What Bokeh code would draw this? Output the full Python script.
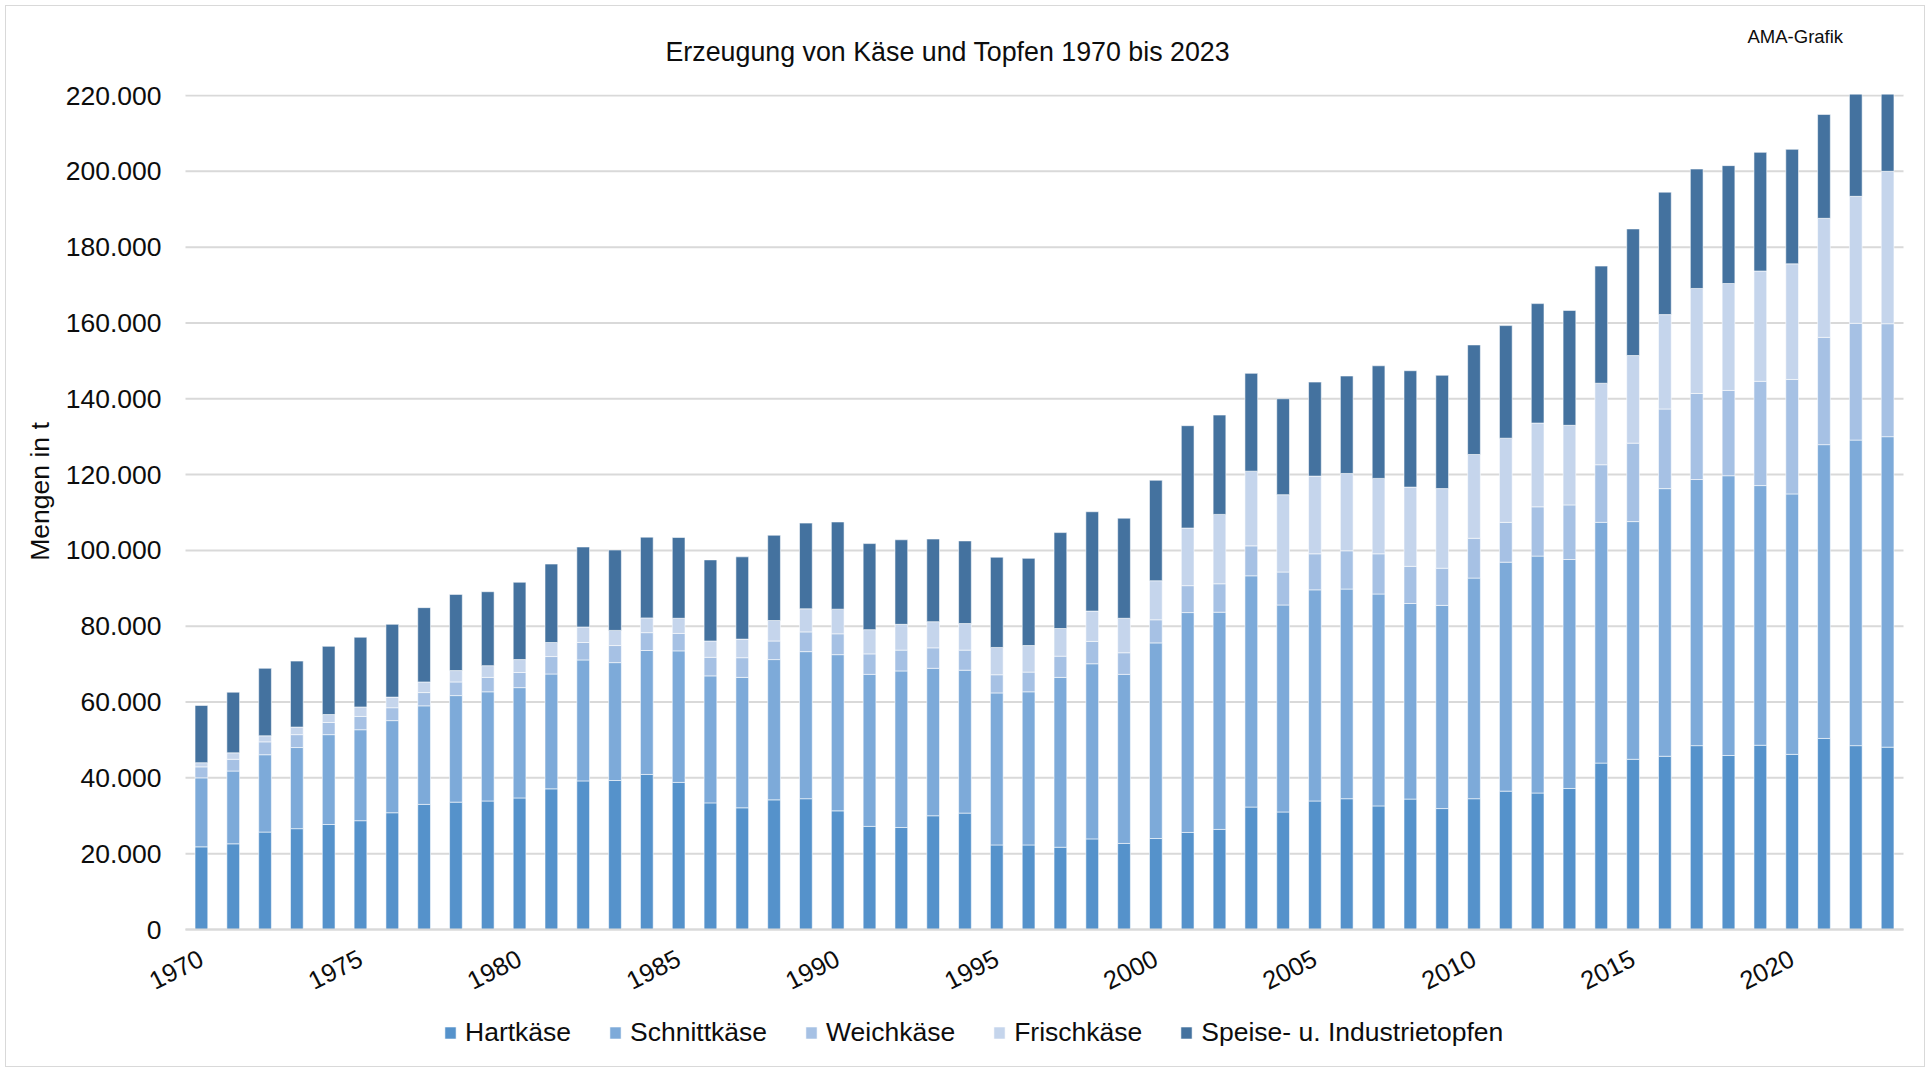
import math
from bokeh.plotting import figure
from bokeh.models import (ColumnDataSource, Range1d, FixedTicker, CustomJSTickFormatter,
                          Label, BoxAnnotation)
from bokeh.embed import file_html
from bokeh.resources import INLINE

years = list(range(1970, 2024))

hartkaese = [21800, 22600, 25700, 26600, 27700, 28700, 30800, 33000, 33600, 33900,
             34700, 37100, 39200, 39300, 40900, 38800, 33400, 32100, 34200, 34500,
             31300, 27200, 26900, 30000, 30700, 22300, 22300, 21700, 23900, 22700,
             24000, 25600, 26400, 32300, 31000, 33900, 34500, 32600, 34400, 31900,
             34500, 36500, 36000, 37200, 43900, 44900, 45700, 48500, 45900, 48600,
             46200, 50400, 48500, 48100]
schnittkaese = [18200, 19200, 20400, 21400, 23700, 24000, 24300, 26000, 28100, 28800,
                29100, 30300, 31900, 31100, 32700, 34700, 33500, 34400, 37000, 38800,
                41200, 40100, 41300, 38900, 37700, 40100, 40400, 44800, 46200, 44600,
                51600, 58000, 57300, 61000, 54600, 55700, 55300, 55900, 51600, 53600,
                58200, 60400, 62500, 60400, 63500, 62700, 70600, 70200, 73800, 68500,
                68700, 77500, 80600, 81900]
weichkaese = [2900, 3100, 3400, 3400, 3200, 3500, 3400, 3500, 3600, 3800,
              4000, 4600, 4600, 4500, 4700, 4600, 4900, 5200, 4900, 5200,
              5500, 5400, 5500, 5400, 5300, 4800, 5200, 5600, 5900, 5700,
              6100, 7100, 7500, 7900, 8700, 9500, 10100, 10600, 9800, 9800,
              10500, 10500, 13000, 14400, 15200, 20700, 21000, 22700, 22500, 27500,
              30200, 28300, 30800, 29800]
frischkaese = [1100, 1700, 1600, 2000, 2100, 2500, 2800, 2800, 3000, 3100,
               3400, 3700, 4100, 4000, 3900, 4000, 4300, 4900, 5400, 6100,
               6500, 6400, 6800, 6900, 7000, 7200, 7000, 7300, 8000, 9100,
               10300, 15200, 18300, 19700, 20400, 20500, 20400, 19900, 20900, 21000,
               22100, 22200, 22100, 21000, 21500, 23100, 24900, 27700, 28200, 29100,
               30500, 31400, 33500, 40200]
topfen = [15100, 16000, 17800, 17400, 18000, 18400, 19200, 19600, 20100, 19500,
          20400, 20700, 21100, 21200, 21300, 21300, 21400, 21700, 22500, 22600,
          23000, 22700, 22300, 21800, 21800, 23800, 23000, 25300, 26200, 26400,
          26500, 27000, 26200, 25800, 25300, 24800, 25700, 29700, 30700, 29900,
          28900, 29700, 31500, 30300, 30900, 33400, 32300, 31500, 31100, 31300,
          30200, 27400, 30000, 30000]

series_keys = ["hart", "schnitt", "weich", "frisch", "topfen"]
series_labels = ["Hartkäse", "Schnittkäse", "Weichkäse", "Frischkäse",
                 "Speise- u. Industrietopfen"]
colors = ["#5592CB", "#7DAAD9", "#A6C1E4", "#C5D5EC", "#44729F"]
x_tick_years = [1970, 1975, 1980, 1985, 1990, 1995, 2000, 2005, 2010, 2015, 2020]
y_ticks = list(range(0, 220001, 20000))
Y_MAX = 220000

source = ColumnDataSource(data=dict(year=years, hart=hartkaese, schnitt=schnittkaese,
                                    weich=weichkaese, frisch=frischkaese, topfen=topfen))

FONT = "Liberation Sans"
TXT = "#0d0d0d"
W, H = 1930, 1072
# plot area in pixels: left/right edges, 220.000 row, 0 row
LEFT_PX, RIGHT_PX, TOP_PX, ZERO_PX = 185, 1903, 95, 929
X0, X1 = years[0] - 0.5, years[-1] + 0.5
per_year = (RIGHT_PX - LEFT_PX) / (X1 - X0)
per_px = Y_MAX / (ZERO_PX - TOP_PX)

p = figure(width=W, height=H, output_backend="svg", toolbar_location=None,
           x_range=Range1d(X0 - LEFT_PX / per_year, X1 + (W - RIGHT_PX) / per_year),
           y_range=Range1d(-(H - ZERO_PX) * per_px, Y_MAX + TOP_PX * per_px),
           min_border_left=0, min_border_right=0, min_border_top=0,
           min_border_bottom=0)
p.title_location = None

# horizontal gridlines at the value ticks, across the category area
grid_src = ColumnDataSource(data=dict(y=y_ticks, x0=[X0] * len(y_ticks),
                                      x1=[X1] * len(y_ticks)))
p.segment(x0="x0", x1="x1", y0="y", y1="y", source=grid_src, line_color="#d9d9d9",
          line_width=2, level="underlay")

p.vbar_stack(series_keys, x="year", width=0.4, color=colors, source=source,
             legend_label=series_labels, line_color="white", line_width=0.8,
             line_alpha=0.7)

# the value axis ends at 220.000: hide whatever goes past it
p.add_layout(BoxAnnotation(left=X0, right=X1, bottom=Y_MAX + per_px,
                           top=Y_MAX + 60 * per_px, fill_color="white", fill_alpha=1,
                           line_alpha=0))

p.add_layout(Label(x=665, y=H - 51.5, x_units="screen", y_units="screen",
                   text="Erzeugung von Käse und Topfen 1970 bis 2023",
                   text_font=FONT, text_font_size="26.8px", text_color=TXT,
                   text_baseline="alphabetic", text_align="left"))
p.add_layout(Label(x=1747, y=H - 35.5, x_units="screen", y_units="screen",
                   text="AMA-Grafik", text_font=FONT, text_font_size="18.5px",
                   text_color=TXT, text_baseline="alphabetic", text_align="left"))
p.add_layout(Label(x=39.5, y=H - 491, x_units="screen", y_units="screen",
                   text="Mengen in t", angle=math.pi / 2, text_font=FONT,
                   text_font_size="26.5px", text_color=TXT,
                   text_baseline="alphabetic", text_align="center"))

p.outline_line_color = None
p.background_fill_color = None
p.border_fill_color = None
p.styles = {"box-shadow": "inset 0 0 0 5px #ffffff, inset 0 0 0 6px #d9d9d9",
            "background-color": "#ffffff"}

p.xgrid.visible = False
p.ygrid.visible = False

xa = p.xaxis[0]
xa.fixed_location = 0
xa.bounds = (X0, X1)
xa.ticker = FixedTicker(ticks=x_tick_years)
xa.axis_line_color = "#d9d9d9"
xa.axis_line_width = 2
xa.major_tick_line_color = None
xa.minor_tick_line_color = None
xa.major_label_orientation = math.radians(27)
xa.major_label_text_font = FONT
xa.major_label_text_font_size = "25.5px"
xa.major_label_text_color = TXT
xa.major_label_standoff = 21

ya = p.yaxis[0]
ya.fixed_location = X0
ya.bounds = (0, Y_MAX)
ya.ticker = FixedTicker(ticks=y_ticks)
ya.formatter = CustomJSTickFormatter(
    code="return tick.toFixed(0).replace(/\\B(?=(\\d{3})+(?!\\d))/g, '.');")
ya.axis_line_color = None
ya.major_tick_line_color = None
ya.minor_tick_line_color = None
ya.major_label_text_font = FONT
ya.major_label_text_font_size = "26.5px"
ya.major_label_text_color = TXT
ya.major_label_standoff = 18

lg = p.legend[0]
lg.orientation = "horizontal"
lg.location = (443, 24)
lg.padding = 0
lg.margin = 0
lg.spacing = 37
lg.label_standoff = 8
lg.glyph_width = 14
lg.glyph_height = 15
lg.border_line_color = None
lg.background_fill_alpha = 0
lg.label_text_font = FONT
lg.label_text_font_size = "26.5px"
lg.label_text_color = TXT

open("out.html", "w").write(file_html(p, INLINE))
